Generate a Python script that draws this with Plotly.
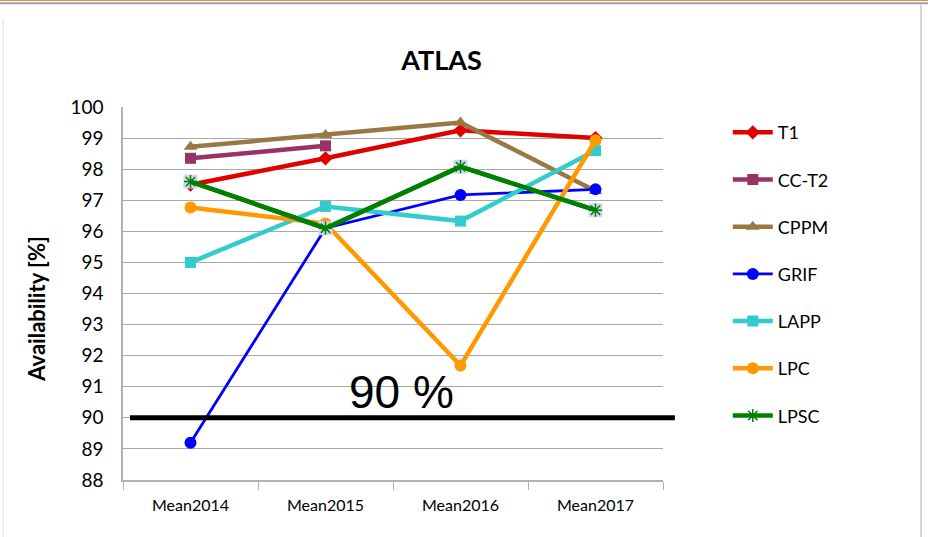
import plotly.graph_objects as go

categories = ["Mean2014", "Mean2015", "Mean2016", "Mean2017"]
t1 = [97.5, 98.35, 99.25, 99.0]
cc_t2 = [98.35, 98.75, None, None]
cppm = [98.72, 99.1, 99.5, 97.3]
grif = [89.2, 96.1, 97.17, 97.35]
lapp = [95.0, 96.8, 96.33, 98.6]
lpc = [96.77, 96.25, 91.68, 98.93]
lpsc = [97.6, 96.1, 98.08, 96.68]
threshold = 90
y_ticks = list(range(88, 101))

series = [
    ("T1", t1, "#e00000", "diamond", 4.5, 11),
    ("CC-T2", cc_t2, "#993366", "square", 4.5, 11),
    ("CPPM", cppm, "#9a7843", "triangle-up", 4.5, 12),
    ("GRIF", grif, "#0000ff", "circle", 2.8, 12),
    ("LAPP", lapp, "#33cccc", "square", 4.5, 11),
    ("LPC", lpc, "#ff9900", "circle", 4.5, 12),
]

fig = go.Figure()
for i, (name, vals, col, sym, lw, ms) in enumerate(series):
    fig.add_trace(go.Scatter(
        x=categories, y=vals, name=name, mode="lines+markers",
        line=dict(color=col, width=lw),
        marker=dict(symbol=sym, size=ms, color=col),
        legendgroup=name, connectgaps=False,
    ))

# LPSC: lavender square background + green asterisk
fig.add_trace(go.Scatter(
    x=categories, y=lpsc, mode="lines+markers", name="LPSC",
    line=dict(color="#008000", width=4.5),
    marker=dict(symbol="square", size=14, color="#d4d4f8", line=dict(width=0)),
    legendgroup="LPSC", showlegend=False,
))
fig.add_trace(go.Scatter(
    x=categories, y=lpsc, mode="lines+markers", name="LPSC",
    line=dict(color="#008000", width=4.5),
    marker=dict(symbol="asterisk-open", size=11, color="#008000",
                line=dict(width=1.5, color="#008000")),
    legendgroup="LPSC",
))

# 90 % threshold line
fig.add_shape(type="line", xref="paper", yref="y", x0=0.013, x1=1.022,
              y0=threshold, y1=threshold, line=dict(color="black", width=5))
fig.add_annotation(xref="paper", yref="y", x=0.515, y=threshold, yanchor="bottom",
                   yshift=-2, text="90 %", showarrow=False,
                   font=dict(family="Liberation Sans", size=46, color="black"))

# y-axis title (placed as in the reference, slightly below centre)
fig.add_annotation(xref="paper", yref="paper", x=-0.16, y=0.458, xanchor="center",
                   yanchor="middle", textangle=-90, showarrow=False,
                   text="<b>Availability [%]</b>",
                   font=dict(family="Lato", size=22, color="black"))

# slide decoration
fig.add_shape(type="rect", xref="paper", yref="paper", x0=-0.3, x1=1.6,
              y0=1.284, y1=1.3, fillcolor="#f28a3c", line=dict(width=0), layer="below")
fig.add_shape(type="line", xref="paper", yref="paper", x0=-0.3, x1=1.6,
              y0=1.278, y1=1.278, line=dict(color="#9aa4a8", width=2), layer="below")
fig.add_shape(type="line", xref="paper", yref="paper", x0=1.478, x1=1.478,
              y0=-0.2, y1=1.275, line=dict(color="#c8c8c8", width=1.5), layer="below")
fig.add_shape(type="line", xref="paper", yref="paper", x0=-0.222, x1=-0.222,
              y0=-0.2, y1=1.235, line=dict(color="#e0e0e0", width=1), layer="below")

fig.update_layout(
    width=928, height=537,
    margin=dict(l=123, r=265, t=107, b=57),
    paper_bgcolor="white", plot_bgcolor="white",
    title=dict(text="<b>ATLAS</b>", x=0.59, xanchor="center", y=0.888, yanchor="middle",
               xref="paper", font=dict(family="Lato", size=27, color="black")),
    font=dict(family="Lato", color="black"),
    xaxis=dict(
        type="category", tickson="boundaries", ticks="outside", ticklen=8,
        tickcolor="#b0b0b0", showline=True, linecolor="#b0b0b0", linewidth=1.5,
        showgrid=False, tickfont=dict(size=16), range=[-0.5, 3.5],
        ticklabelstandoff=10,
    ),
    yaxis=dict(
        range=[88, 100], tickvals=y_ticks, showgrid=True, gridcolor="#a8a8a8",
        gridwidth=1.2, showline=True, linecolor="#b0b0b0", linewidth=1.5,
        ticks="", tickfont=dict(size=19), zeroline=False, ticklabelstandoff=14,
    ),
    legend=dict(
        x=1.12, xanchor="left", y=0.981, yanchor="top",
        font=dict(size=18), tracegroupgap=20.8, traceorder="grouped",
        itemwidth=40,
    ),
    showlegend=True,
)

fig.write_html("out.html", config={"displayModeBar": False},
               post_script="document.body.style.margin='0';document.body.style.overflow='hidden';")
